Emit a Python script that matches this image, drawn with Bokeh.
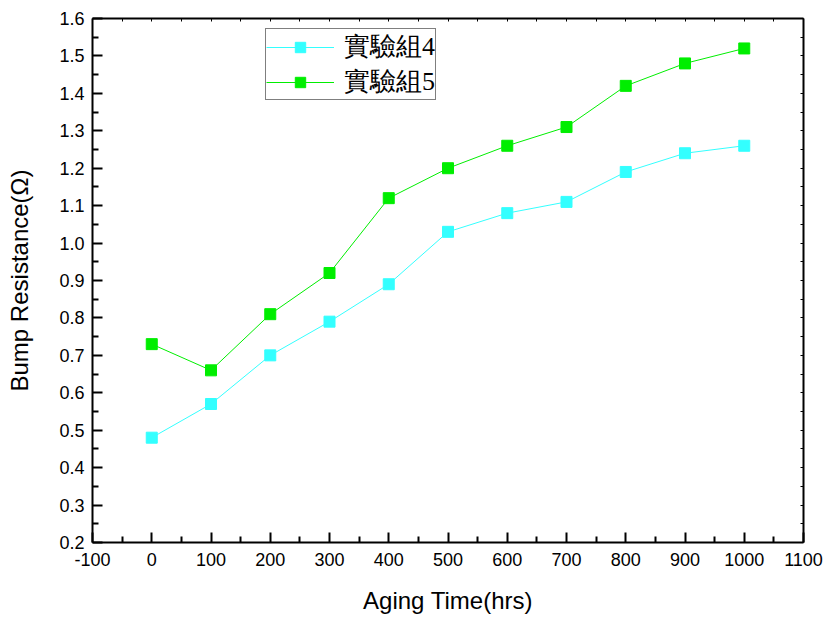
from bokeh.plotting import figure
from bokeh.models import (LinearAxis, FixedTicker, NumeralTickFormatter, Range1d,
                          Legend, LegendItem, CustomJSTickFormatter)
from bokeh.embed import file_html
from bokeh.resources import INLINE

# Aging time (hrs) and bump resistance (ohm) for two test groups
aging_hrs = [0, 100, 200, 300, 400, 500, 600, 700, 800, 900, 1000]
group4_res = [0.48, 0.57, 0.70, 0.79, 0.89, 1.03, 1.08, 1.11, 1.19, 1.24, 1.26]
group5_res = [0.73, 0.66, 0.81, 0.92, 1.12, 1.20, 1.26, 1.31, 1.42, 1.48, 1.52]
series_names = ["實驗組4", "實驗組5"]

x_ticks = [-100, 0, 100, 200, 300, 400, 500, 600, 700, 800, 900, 1000, 1100]
y_ticks = [0.2, 0.3, 0.4, 0.5, 0.6, 0.7, 0.8, 0.9, 1.0, 1.1, 1.2, 1.3, 1.4, 1.5, 1.6]
x_minor = [t + 50 for t in x_ticks[:-1]]
y_minor = [round(t + 0.05, 2) for t in y_ticks[:-1]]

CYAN = "#33ffff"
GREEN = "#00ee00"

p = figure(width=829, height=621, output_backend="svg", toolbar_location=None,
           x_range=Range1d(-100, 1100), y_range=Range1d(0.2, 1.6),
           x_axis_location=None, y_axis_location=None,
           min_border_left=92, min_border_right=26, min_border_top=18,
           min_border_bottom=79)
p.background_fill_color = "white"
p.border_fill_color = "white"
p.outline_line_color = None
p.xgrid.visible = False
p.ygrid.visible = False

def style_axis(ax):
    ax.axis_line_width = 2
    ax.axis_line_color = "black"
    ax.major_tick_in = 10
    ax.major_tick_out = 0
    ax.minor_tick_in = 6
    ax.minor_tick_out = 0
    ax.major_tick_line_width = 2
    ax.minor_tick_line_width = 2
    ax.major_label_text_font = "Liberation Sans"
    ax.major_label_text_font_size = "18px"
    ax.major_label_text_color = "black"
    ax.axis_label_text_font = "Liberation Sans"
    ax.axis_label_text_font_size = "24px"
    ax.axis_label_text_font_style = "normal"
    ax.axis_label_text_color = "black"

def style_mirror(ax):
    style_axis(ax)
    ax.major_tick_in = 3
    ax.minor_tick_in = 3
    ax.major_tick_line_width = 1
    ax.minor_tick_line_width = 1
    ax.major_label_standoff = 0
    ax.formatter = CustomJSTickFormatter(code="return ''")

xt = FixedTicker(ticks=x_ticks, minor_ticks=x_minor)
yt = FixedTicker(ticks=y_ticks, minor_ticks=y_minor)

bottom = LinearAxis(ticker=xt, formatter=NumeralTickFormatter(format="0"),
                    axis_label="Aging Time(hrs)")
style_axis(bottom)
bottom.major_label_standoff = 10
bottom.axis_label_standoff = 18
p.add_layout(bottom, "below")

left = LinearAxis(ticker=yt, formatter=NumeralTickFormatter(format="0.0"),
                  axis_label="Bump Resistance(Ω)")
style_axis(left)
left.major_label_standoff = 8
left.axis_label_standoff = 23
p.add_layout(left, "left")

top = LinearAxis(ticker=xt)
style_mirror(top)
p.add_layout(top, "above")

right = LinearAxis(ticker=yt)
style_mirror(right)
p.add_layout(right, "right")

l4 = p.line(aging_hrs, group4_res, line_color=CYAN, line_width=1)
m4 = p.scatter(aging_hrs, group4_res, marker="square", size=11,
               fill_color=CYAN, line_color=CYAN)
l5 = p.line(aging_hrs, group5_res, line_color=GREEN, line_width=1)
m5 = p.scatter(aging_hrs, group5_res, marker="square", size=11,
               fill_color=GREEN, line_color=GREEN)

legend = Legend(items=[LegendItem(label=series_names[0], renderers=[l4, m4]),
                       LegendItem(label=series_names[1], renderers=[l5, m5])],
                location=(173, 442))
legend.label_text_font = "Liberation Serif"
legend.label_text_font_size = "26px"
legend.label_text_color = "black"
legend.glyph_width = 68
legend.glyph_height = 26
legend.label_height = 26
legend.label_standoff = 10
legend.spacing = 0
legend.padding = 0
legend.margin = 0
legend.border_line_color = "black"
legend.border_line_width = 1
legend.background_fill_color = "white"
legend.background_fill_alpha = 1
p.add_layout(legend, "center")

open("out.html", "w").write(file_html(p, INLINE))
